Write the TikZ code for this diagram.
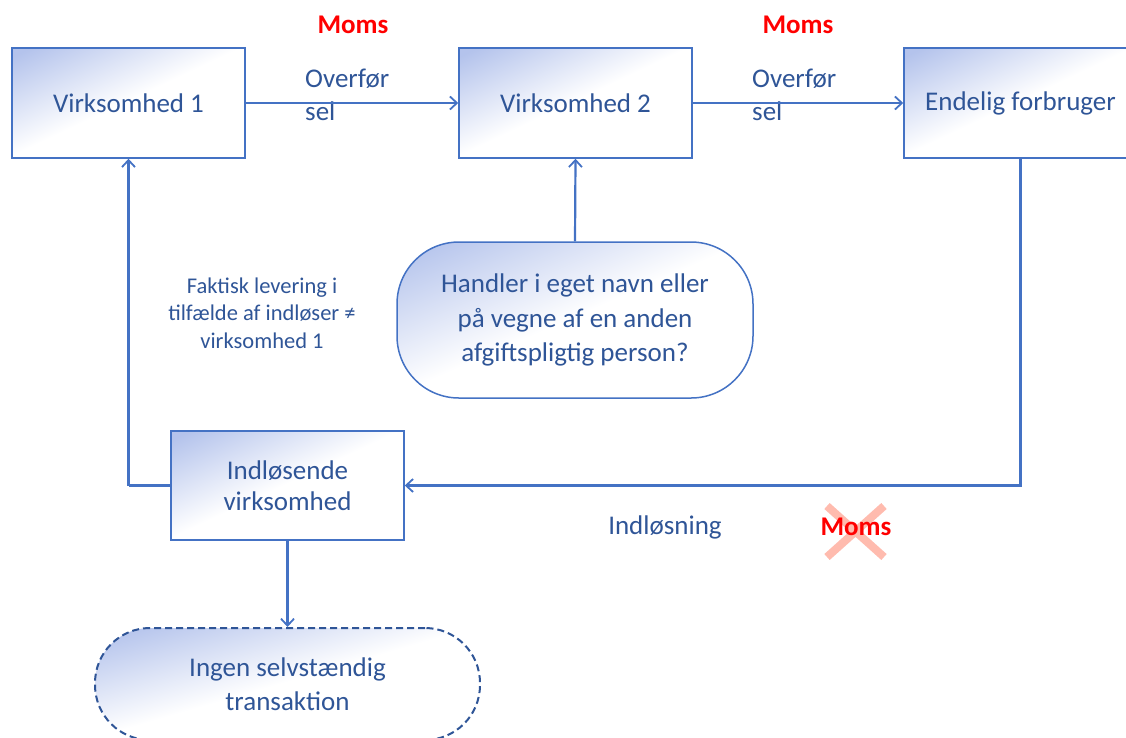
\documentclass[tikz,border=0pt]{standalone}
\usepackage{fontspec}
\setmainfont{Carlito}
\usetikzlibrary{arrows.meta}
\definecolor{lineblue}{HTML}{4472C4}
\definecolor{textblue}{HTML}{2F5597}
\definecolor{momsred}{HTML}{FF0000}
\definecolor{crossred}{HTML}{FFBBAE}
\pgfdeclarefunctionalshading{cornerfade}{\pgfpoint{-50bp}{-50bp}}{\pgfpoint{50bp}{50bp}}{}{
  exch sub 50 div
  0.02 sub 0.9 div
  dup 0 lt {pop 0} if
  dup 1 gt {pop 1} if
  dup 0.294 mul 1 exch sub
  exch dup 0.235 mul 1 exch sub
  exch 0.075 mul 1 exch sub
}
\tikzset{
  x=1pt,y=-1pt,
  fillbox/.style={draw=lineblue, line width=1.5pt, shading=cornerfade,
     text=textblue, font=\fontsize{27}{31}\selectfont, align=center, inner sep=0pt},
  sqbox/.style={fillbox, minimum width=233pt, minimum height=110pt},
  conn/.style={draw=lineblue, line width=2.2pt},
  arr/.style={conn, -{Straight Barb[length=7pt,width=13pt,line width=1.8pt]}},
  lbl/.style={text=textblue, font=\fontsize{27}{33}\selectfont, align=left, inner sep=0pt},
  small/.style={text=textblue, font=\fontsize{22.5}{27.5}\selectfont, align=center, inner sep=0pt},
  moms/.style={text=momsred, font=\bfseries\fontsize{27}{31}\selectfont, inner sep=0pt},
}
\begin{document}
\begin{tikzpicture}
\useasboundingbox (0,0) rectangle (1126,737);
\clip (0,0) rectangle (1126,737);
\node[sqbox] (v1) at (128.5,103) {Virksomhed 1};
\node[sqbox] (v2) at (575.5,103) {Virksomhed 2};
\node[sqbox] (ef) at (1020.5,103) {Endelig forbruger};
\node[sqbox, minimum height=109pt] (ind) at (287.5,485.5) {Indløsende\\virksomhed};
\node[fillbox, rounded corners=62pt, minimum width=356pt, minimum height=156pt, font=\fontsize{27}{34.5}\selectfont] (q) at (575,320) {Handler i eget navn eller\\på vegne af en anden\\afgiftspligtig person?};
\node[fillbox, dashed, dash pattern=on 7pt off 4pt, line width=2pt, draw=textblue, rounded corners=55pt, minimum width=385pt, minimum height=112pt, font=\fontsize{27}{34}\selectfont] (ing) at (287.5,684) {Ingen selvstændig\\transaktion};
% labels
\node[moms] (m1) at (353,25) {Moms};
\node[moms] (m2) at (798,25) {Moms};
\node[lbl, anchor=west] (o1) at (305,94.5) {Overfør\\sel};
\node[lbl, anchor=west] (o2) at (752,94.5) {Overfør\\sel};
\node[small] (fak) at (262,313) {Faktisk levering i\\tilfælde af indløser ≠\\virksomhed 1};
\node[lbl] (indl) at (665,527) {Indløsning};
\coordinate (xa) at (827,506);
\coordinate (xb) at (884,557);
\coordinate (xc) at (884,506);
\coordinate (xd) at (827,557);
\draw[crossred, line width=8pt] (xa) -- (xb) (xc) -- (xd);
\node[moms] (m3) at (856,527) {Moms};
% connectors
\draw[arr] (v1.east) -- (v2.west);
\draw[arr] (v2.east) -- (ef.west);
\draw[arr] (q.north) -- (v2.south);
\coordinate (efc) at (ef.south |- ind.east);
\draw[arr] (ef.south) -- (efc) -- (ind.east);
\coordinate (lc) at (v1.south |- ind.west);
\draw[conn] (ind.west) -- (lc);
\draw[arr] (lc) -- (v1.south);
\draw[arr] (ind.south) -- (ing.north);
\end{tikzpicture}
\end{document}
